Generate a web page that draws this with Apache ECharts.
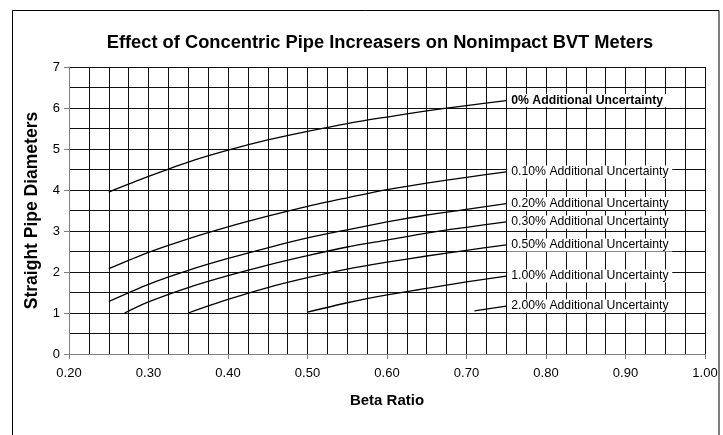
<!DOCTYPE html>
<html>
<head>
<meta charset="utf-8">
<script src="https://cdn.jsdelivr.net/npm/echarts@6/dist/echarts.min.js"></script>
<style>
  html, body { margin: 0; padding: 0; background: #fff; }
  #chart { width: 723px; height: 435px; }
</style>
</head>
<body>
<div id="chart"></div>
<script>
const curveNames = [
  "0% Additional Uncertainty",
  "0.10% Additional Uncertainty",
  "0.20% Additional Uncertainty",
  "0.30% Additional Uncertainty",
  "0.50% Additional Uncertainty",
  "1.00% Additional Uncertainty",
  "2.00% Additional Uncertainty",
];

// [beta ratio, straight pipe diameters]
const unc0 = [[0.25, 3.95], [0.30, 4.33], [0.35, 4.68], [0.40, 4.97], [0.45, 5.22], [0.50, 5.43],
  [0.55, 5.62], [0.60, 5.78], [0.65, 5.93], [0.70, 6.06], [0.75, 6.18]];
const unc010 = [[0.25, 2.08], [0.30, 2.48], [0.35, 2.81], [0.40, 3.10], [0.45, 3.36], [0.50, 3.60],
  [0.55, 3.81], [0.60, 4.01], [0.65, 4.17], [0.70, 4.31], [0.75, 4.44]];
const unc020 = [[0.25, 1.28], [0.30, 1.70], [0.35, 2.04], [0.40, 2.33], [0.45, 2.59], [0.50, 2.83],
  [0.55, 3.03], [0.60, 3.22], [0.65, 3.39], [0.70, 3.53], [0.75, 3.67]];
const unc030 = [[0.27, 1.00], [0.30, 1.27], [0.35, 1.62], [0.40, 1.91], [0.45, 2.17], [0.50, 2.40],
  [0.55, 2.61], [0.60, 2.78], [0.65, 2.95], [0.70, 3.09], [0.75, 3.22]];
const unc050 = [[0.35, 1.00], [0.40, 1.33], [0.45, 1.62], [0.50, 1.86], [0.55, 2.07], [0.60, 2.24],
  [0.65, 2.39], [0.70, 2.53], [0.75, 2.66]];
const unc100 = [[0.50, 1.02], [0.55, 1.25], [0.60, 1.44], [0.65, 1.60], [0.70, 1.76], [0.75, 1.90]];
const unc200 = [[0.71, 1.05], [0.75, 1.17]];

const curves = [unc0, unc010, unc020, unc030, unc050, unc100, unc200];

const chart = echarts.init(document.getElementById("chart"));

const font = "Arial, 'Liberation Sans', sans-serif";

chart.setOption({
  animation: false,
  textStyle: { fontFamily: font },
  title: {
    text: "Effect of Concentric Pipe Increasers on Nonimpact BVT Meters",
    left: 375,
    top: 29,
    textAlign: "center",
    textStyle: { fontSize: 18.3, fontWeight: "bold", color: "#000", fontFamily: font },
  },
  graphic: [
    {
      type: "rect",
      shape: { x: 12.5, y: 10.5, width: 706.5, height: 440 },
      style: { fill: "none", stroke: "#000", lineWidth: 1 },
      silent: true,
    },
  ],
  grid: { left: 69, right: 18, top: 67, bottom: 81 },
  xAxis: {
    type: "value",
    min: 0.2,
    max: 1.0,
    interval: 0.1,
    name: "Beta Ratio",
    nameLocation: "middle",
    nameGap: 39,
    nameTextStyle: { fontSize: 15, fontWeight: "bold", color: "#000", fontFamily: font },
    axisLine: { show: true, lineStyle: { color: "#808080", width: 1 } },
    axisTick: { show: true, length: 5, lineStyle: { color: "#808080" } },
    axisLabel: {
      color: "#000",
      fontSize: 13,
      margin: 13,
      formatter: (v) => v.toFixed(2),
    },
    splitLine: { show: true, lineStyle: { color: "#111", width: 1 } },
    minorTick: { show: false, splitNumber: 4 },
    minorSplitLine: { show: true, lineStyle: { color: "#111", width: 1 } },
  },
  yAxis: {
    type: "value",
    min: 0,
    max: 7,
    interval: 1,
    name: "Straight Pipe Diameters",
    nameLocation: "middle",
    nameGap: 28,
    nameTextStyle: { fontSize: 17.5, fontWeight: "bold", color: "#000", fontFamily: font },
    axisLine: { show: true, lineStyle: { color: "#808080", width: 1 } },
    axisTick: { show: true, length: 5, lineStyle: { color: "#808080" } },
    axisLabel: { color: "#000", fontSize: 13, margin: 9 },
    splitLine: { show: true, lineStyle: { color: "#111", width: 1 } },
    minorTick: { show: false, splitNumber: 2 },
    minorSplitLine: { show: true, lineStyle: { color: "#111", width: 1 } },
  },
  series: curves.map((data, i) => ({
    name: curveNames[i],
    type: "line",
    data: data,
    smooth: 0.3,
    showSymbol: false,
    silent: true,
    lineStyle: { color: "#000", width: 1.3 },
    emphasis: { disabled: true },
    endLabel: {
      show: true,
      formatter: "{a}",
      color: "#000",
      fontSize: 12.25,
      fontWeight: i === 0 ? "bold" : "normal",
      fontFamily: font,
      backgroundColor: "#fff",
      padding: [1, 4, 0, 4],
      width: 157,
      distance: 1,
    },
  })),
});
</script>
</body>
</html>
